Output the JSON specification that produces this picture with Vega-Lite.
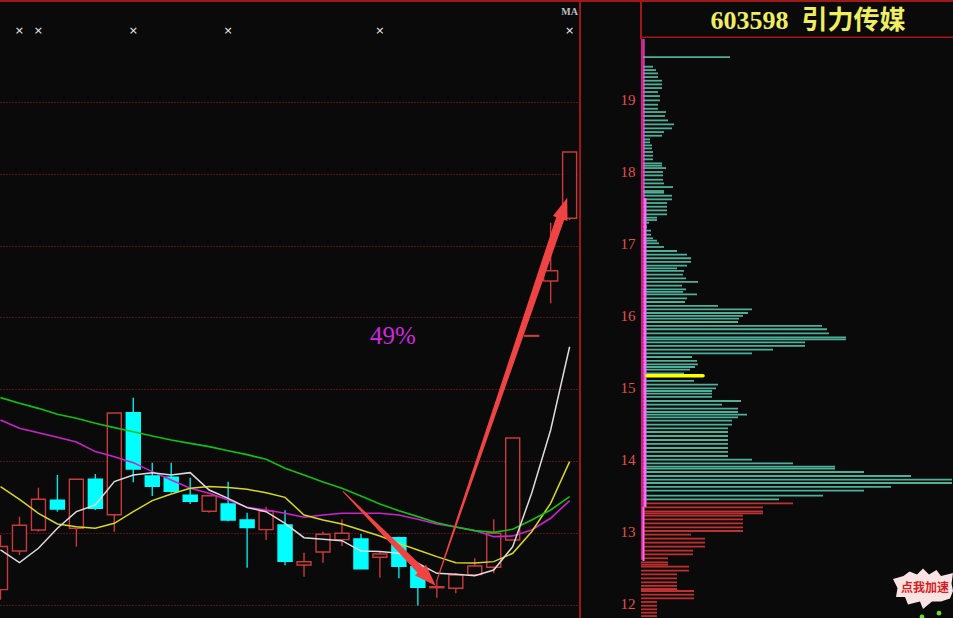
{"$schema":"https://vega.github.io/schema/vega-lite/v6.json","background":"#0a0a0a","padding":0,"spacing":0,"config":{"view":{"stroke":null},"axis":{"title":null}},
"datasets":{
"days":[
{"i":0,"open":12.22,"close":12.82,"high":12.98,"low":12.08,"ma5":12.771,"ma10":13.651,"ma20":14.576,"ma60":14.887},
{"i":1,"open":12.757,"close":13.114,"high":13.233,"low":12.701,"ma5":12.595,"ma10":13.475,"ma20":14.461,"ma60":14.808},
{"i":2,"open":13.049,"close":13.475,"high":13.636,"low":13.025,"ma5":12.794,"ma10":13.28,"ma20":14.4,"ma60":14.738},
{"i":3,"open":13.461,"close":13.34,"high":13.813,"low":13.303,"ma5":13.072,"ma10":13.132,"ma20":14.336,"ma60":14.655},
{"i":4,"open":13.072,"close":13.753,"high":13.753,"low":12.817,"ma5":13.303,"ma10":13.095,"ma20":14.271,"ma60":14.6},
{"i":5,"open":13.753,"close":13.35,"high":13.826,"low":13.326,"ma5":13.396,"ma10":13.072,"ma20":14.137,"ma60":14.53},
{"i":6,"open":13.261,"close":14.674,"high":14.674,"low":13.025,"ma5":13.72,"ma10":13.141,"ma20":14.067,"ma60":14.47},
{"i":7,"open":14.678,"close":13.896,"high":14.886,"low":13.711,"ma5":13.813,"ma10":13.303,"ma20":13.984,"ma60":14.414},
{"i":8,"open":13.799,"close":13.656,"high":13.983,"low":13.521,"ma5":13.845,"ma10":13.456,"ma20":13.859,"ma60":14.354},
{"i":9,"open":13.781,"close":13.586,"high":13.983,"low":13.567,"ma5":13.813,"ma10":13.549,"ma20":13.743,"ma60":14.299},
{"i":10,"open":13.531,"close":13.447,"high":13.775,"low":13.41,"ma5":13.845,"ma10":13.627,"ma20":13.627,"ma60":14.252},
{"i":11,"open":13.308,"close":13.525,"high":13.525,"low":13.289,"ma5":13.604,"ma10":13.651,"ma20":13.558,"ma60":14.206},
{"i":12,"open":13.41,"close":13.188,"high":13.719,"low":13.169,"ma5":13.488,"ma10":13.637,"ma20":13.465,"ma60":14.15},
{"i":13,"open":13.188,"close":13.081,"high":13.289,"low":12.525,"ma5":13.359,"ma10":13.613,"ma20":13.363,"ma60":14.095},
{"i":14,"open":13.053,"close":13.313,"high":13.372,"low":12.91,"ma5":13.303,"ma10":13.567,"ma20":13.326,"ma60":14.03},
{"i":15,"open":13.118,"close":12.614,"high":13.322,"low":12.558,"ma5":13.141,"ma10":13.502,"ma20":13.28,"ma60":13.905},
{"i":16,"open":12.563,"close":12.608,"high":12.733,"low":12.4,"ma5":12.942,"ma10":13.257,"ma20":13.225,"ma60":13.813},
{"i":17,"open":12.743,"close":12.989,"high":13.025,"low":12.594,"ma5":12.919,"ma10":13.188,"ma20":13.257,"ma60":13.715},
{"i":18,"open":12.914,"close":13.003,"high":13.197,"low":12.826,"ma5":12.9,"ma10":13.132,"ma20":13.28,"ma60":13.627},
{"i":19,"open":12.924,"close":12.511,"high":12.993,"low":12.511,"ma5":12.757,"ma10":13.049,"ma20":13.28,"ma60":13.521},
{"i":20,"open":12.669,"close":12.715,"high":12.747,"low":12.386,"ma5":12.748,"ma10":12.965,"ma20":13.28,"ma60":13.41},
{"i":21,"open":12.942,"close":12.544,"high":12.956,"low":12.378,"ma5":12.725,"ma10":12.863,"ma20":13.257,"ma60":13.317},
{"i":22,"open":12.539,"close":12.253,"high":12.59,"low":12.0,"ma5":12.586,"ma10":12.771,"ma20":13.197,"ma60":13.234},
{"i":23,"open":12.247,"close":12.261,"high":12.354,"low":12.108,"ma5":12.447,"ma10":12.678,"ma20":13.132,"ma60":13.15},
{"i":24,"open":12.239,"close":12.424,"high":12.45,"low":12.169,"ma5":12.433,"ma10":12.595,"ma20":13.09,"ma60":13.09},
{"i":25,"open":12.428,"close":12.549,"high":12.656,"low":12.428,"ma5":12.414,"ma10":12.59,"ma20":13.04,"ma60":13.04},
{"i":26,"open":12.531,"close":13.003,"high":13.197,"low":12.447,"ma5":12.493,"ma10":12.609,"ma20":12.956,"ma60":13.016},
{"i":27,"open":12.91,"close":14.326,"high":14.326,"low":12.91,"ma5":12.817,"ma10":12.725,"ma20":12.965,"ma60":13.058},
{"i":28,"open":15.74,"close":15.75,"high":15.75,"low":15.74,"ma5":13.558,"ma10":13.025,"ma20":13.049,"ma60":13.188},
{"i":29,"open":16.507,"close":16.65,"high":17.317,"low":16.197,"ma5":14.438,"ma10":13.419,"ma20":13.211,"ma60":13.326},
{"i":30,"open":17.378,"close":18.299,"high":18.299,"low":17.354,"ma5":15.594,"ma10":13.998,"ma20":13.456,"ma60":13.512}
],
"arrows":[
{"arrow":"a","ord":1,"i":18.07,"p":13.581,"w":1},
{"arrow":"a","ord":2,"i":22.13,"p":12.492,"w":8},
{"arrow":"b","ord":1,"i":23.01,"p":12.354,"w":1},
{"arrow":"b","ord":2,"i":29.505,"p":17.375,"w":8.5}
],
"marks":[
{"i":1,"p":19.979,"t":"×"},{"i":2,"p":19.979,"t":"×"},{"i":7,"p":19.979,"t":"×"},{"i":12,"p":19.979,"t":"×"},{"i":20,"p":19.979,"t":"×"},{"i":30,"p":19.979,"t":"×"}
],
"chips":[
{"side":"sell","p":19.594,"vol":89},{"side":"sell","p":19.46,"vol":12},{"side":"sell","p":19.413,"vol":15},{"side":"sell","p":19.367,"vol":17},{"side":"sell","p":19.316,"vol":17},{"side":"sell","p":19.265,"vol":21},{"side":"sell","p":19.214,"vol":21},{"side":"sell","p":19.163,"vol":21},{"side":"sell","p":19.108,"vol":17},{"side":"sell","p":19.052,"vol":19},{"side":"sell","p":18.992,"vol":19},{"side":"sell","p":18.932,"vol":17},{"side":"sell","p":18.876,"vol":17},{"side":"sell","p":18.83,"vol":25},{"side":"sell","p":18.775,"vol":24},{"side":"sell","p":18.714,"vol":27},{"side":"sell","p":18.659,"vol":33},{"side":"sell","p":18.603,"vol":31},{"side":"sell","p":18.552,"vol":23},{"side":"sell","p":18.501,"vol":21},{"side":"sell","p":18.45,"vol":9},{"side":"sell","p":18.409,"vol":9},{"side":"sell","p":18.367,"vol":11},{"side":"sell","p":18.325,"vol":11},{"side":"sell","p":18.275,"vol":12},{"side":"sell","p":18.224,"vol":12},{"side":"sell","p":18.173,"vol":12},{"side":"sell","p":18.117,"vol":21},{"side":"sell","p":18.085,"vol":21},{"side":"sell","p":18.052,"vol":25},{"side":"sell","p":17.997,"vol":22},{"side":"sell","p":17.95,"vol":22},{"side":"sell","p":17.89,"vol":22},{"side":"sell","p":17.839,"vol":23},{"side":"sell","p":17.788,"vol":32},{"side":"sell","p":17.733,"vol":23},{"side":"sell","p":17.71,"vol":23},{"side":"sell","p":17.668,"vol":31},{"side":"sell","p":17.617,"vol":31},{"side":"sell","p":17.566,"vol":26},{"side":"sell","p":17.515,"vol":26},{"side":"sell","p":17.464,"vol":26},{"side":"sell","p":17.409,"vol":26},{"side":"sell","p":17.363,"vol":16},{"side":"sell","p":17.33,"vol":16},{"side":"sell","p":17.293,"vol":8},{"side":"sell","p":17.237,"vol":6},
{"side":"sell","p":17.183,"vol":10},{"side":"sell","p":17.127,"vol":10},{"side":"sell","p":17.076,"vol":12},{"side":"sell","p":17.044,"vol":16},{"side":"sell","p":17.007,"vol":18},{"side":"sell","p":16.956,"vol":23},{"side":"sell","p":16.9,"vol":36},{"side":"sell","p":16.85,"vol":46},{"side":"sell","p":16.799,"vol":50},{"side":"sell","p":16.748,"vol":50},{"side":"sell","p":16.697,"vol":46},{"side":"sell","p":16.66,"vol":36},{"side":"sell","p":16.623,"vol":43},{"side":"sell","p":16.572,"vol":42},{"side":"sell","p":16.521,"vol":45},{"side":"sell","p":16.47,"vol":57},{"side":"sell","p":16.419,"vol":41},{"side":"sell","p":16.368,"vol":45},{"side":"sell","p":16.331,"vol":42},{"side":"sell","p":16.299,"vol":56},{"side":"sell","p":16.243,"vol":46},{"side":"sell","p":16.192,"vol":44},{"side":"sell","p":16.137,"vol":77},{"side":"sell","p":16.09,"vol":111},{"side":"sell","p":16.039,"vol":107},{"side":"sell","p":15.998,"vol":102},{"side":"sell","p":15.961,"vol":98},{"side":"sell","p":15.914,"vol":97},{"side":"sell","p":15.859,"vol":181},{"side":"sell","p":15.813,"vol":186},{"side":"sell","p":15.757,"vol":188},{"side":"sell","p":15.701,"vol":205},{"side":"sell","p":15.674,"vol":205},{"side":"sell","p":15.632,"vol":164},{"side":"sell","p":15.581,"vol":164},{"side":"sell","p":15.53,"vol":132},{"side":"sell","p":15.479,"vol":111},{"side":"sell","p":15.428,"vol":51},{"side":"sell","p":15.373,"vol":56},{"side":"sell","p":15.326,"vol":57},{"side":"sell","p":15.289,"vol":54},{"side":"sell","p":15.252,"vol":49},{"side":"sell","p":15.201,"vol":43},{"side":"sell","p":15.095,"vol":53},{"side":"sell","p":15.044,"vol":77},{"side":"sell","p":14.993,"vol":75},{"side":"sell","p":14.956,"vol":71},{"side":"sell","p":14.919,"vol":71},{"side":"sell","p":14.873,"vol":71},{"side":"sell","p":14.817,"vol":100},{"side":"sell","p":14.766,"vol":81},{"side":"sell","p":14.711,"vol":97},{"side":"sell","p":14.664,"vol":97},{"side":"sell","p":14.627,"vol":106},{"side":"sell","p":14.59,"vol":97},
{"side":"sell","p":14.544,"vol":91},{"side":"sell","p":14.488,"vol":91},{"side":"sell","p":14.437,"vol":87},{"side":"sell","p":14.386,"vol":87},{"side":"sell","p":14.331,"vol":87},{"side":"sell","p":14.275,"vol":87},{"side":"sell","p":14.22,"vol":87},{"side":"sell","p":14.164,"vol":87},{"side":"sell","p":14.109,"vol":87},{"side":"sell","p":14.053,"vol":87},{"side":"sell","p":14.002,"vol":111},{"side":"sell","p":13.951,"vol":152},{"side":"sell","p":13.905,"vol":194},{"side":"sell","p":13.877,"vol":194},{"side":"sell","p":13.831,"vol":223},{"side":"sell","p":13.775,"vol":270},{"side":"sell","p":13.724,"vol":311},{"side":"sell","p":13.678,"vol":311},{"side":"sell","p":13.623,"vol":250},{"side":"sell","p":13.572,"vol":223},{"side":"sell","p":13.502,"vol":182},{"side":"sell","p":13.451,"vol":138},
{"side":"buy","p":13.396,"vol":152},{"side":"buy","p":13.34,"vol":122},{"side":"buy","p":13.285,"vol":122},{"side":"buy","p":13.257,"vol":122},{"side":"buy","p":13.224,"vol":102},{"side":"buy","p":13.174,"vol":102},{"side":"buy","p":13.118,"vol":102},{"side":"buy","p":13.062,"vol":102},{"side":"buy","p":13.011,"vol":102},{"side":"buy","p":12.96,"vol":50},{"side":"buy","p":12.905,"vol":64},{"side":"buy","p":12.85,"vol":64},{"side":"buy","p":12.794,"vol":64},{"side":"buy","p":12.738,"vol":52},{"side":"buy","p":12.687,"vol":52},{"side":"buy","p":12.632,"vol":27},{"side":"buy","p":12.576,"vol":27},{"side":"buy","p":12.544,"vol":27},{"side":"buy","p":12.516,"vol":48},{"side":"buy","p":12.461,"vol":48},{"side":"buy","p":12.41,"vol":36},{"side":"buy","p":12.354,"vol":36},{"side":"buy","p":12.299,"vol":36},{"side":"buy","p":12.248,"vol":36},{"side":"buy","p":12.206,"vol":36},{"side":"buy","p":12.178,"vol":53},{"side":"buy","p":12.127,"vol":53},{"side":"buy","p":12.076,"vol":53},{"side":"buy","p":12.025,"vol":16},{"side":"buy","p":11.974,"vol":16},{"side":"buy","p":11.923,"vol":16},{"side":"buy","p":11.877,"vol":16},{"side":"buy","p":11.83,"vol":16}
],
"bands":[
{"k":"crimson","v0":0,"v1":2.5,"p0":19.844,"p1":12.608},
{"k":"pale","v0":2.5,"v1":3.5,"p0":19.844,"p1":17.636},
{"k":"pale","v0":2.5,"v1":5.5,"p0":17.636,"p1":13.344},
{"k":"pale","v0":1.5,"v1":3.5,"p0":13.344,"p1":12.594}
]
},
"hconcat":[
{"width":581,"height":618,
"encoding":{"x":{"field":"i","type":"quantitative","scale":{"domain":[-0.026,30.6],"nice":false,"zero":false,"padding":0},"axis":null}},
"layer":[
{"data":{"name":"days"},"mark":{"type":"rule","strokeWidth":1.4,"clip":true},"encoding":{"y":{"field":"low","type":"quantitative","scale":{"domain":[11.826,20.41],"nice":false,"zero":false},"axis":{"values":[12,13,14,15,16,17,18,19],"labels":false,"ticks":false,"domain":false,"grid":true,"gridColor":"#a02020","gridDash":[1,2],"gridWidth":1,"minExtent":0,"maxExtent":0}},"y2":{"field":"high"},"color":{"condition":{"test":"datum.close>=datum.open","value":"#c83a3e"},"value":"#00e8e8"}}},
{"data":{"name":"days"},"mark":{"type":"bar","size":14,"strokeWidth":1.4,"clip":true},"encoding":{"y":{"field":"open","type":"quantitative"},"y2":{"field":"close"},"fill":{"condition":{"test":"datum.close>=datum.open","value":"#0a0a0a"},"value":"#00ffff"},"stroke":{"condition":{"test":"datum.close>=datum.open","value":"#c83a3e"},"value":"#00ffff"}}},
{"data":{"name":"days"},"mark":{"type":"line","color":"#cc22cc","strokeWidth":1.6,"clip":true},"encoding":{"y":{"field":"ma20","type":"quantitative"}}},
{"data":{"name":"days"},"mark":{"type":"line","color":"#d8d820","strokeWidth":1.5,"clip":true},"encoding":{"y":{"field":"ma10","type":"quantitative"}}},
{"data":{"name":"days"},"mark":{"type":"line","color":"#12c012","strokeWidth":1.6,"clip":true},"encoding":{"y":{"field":"ma60","type":"quantitative"}}},
{"data":{"name":"days"},"mark":{"type":"line","color":"#dcdcdc","strokeWidth":1.5,"clip":true},"encoding":{"y":{"field":"ma5","type":"quantitative"}}},
{"data":{"name":"arrows"},"mark":{"type":"trail","color":"#f04444"},"encoding":{"y":{"field":"p","type":"quantitative"},"order":{"field":"ord"},"detail":{"field":"arrow"},"size":{"field":"w","type":"quantitative","scale":{"domain":[0,20],"range":[0,20]},"legend":null}}},
{"data":{"values":[{"i":22.54,"p":12.383}]},"mark":{"type":"point","filled":true,"opacity":1,"color":"#f04444","size":484,"angle":135.5,"shape":"M0,-1L-0.7,1L0.7,1Z"},"encoding":{"y":{"field":"p","type":"quantitative"}}},
{"data":{"values":[{"i":29.69,"p":17.519}]},"mark":{"type":"point","filled":true,"opacity":1,"color":"#f04444","size":484,"angle":18.8,"shape":"M0,-1L-0.7,1L0.7,1Z"},"encoding":{"y":{"field":"p","type":"quantitative"}}},
{"data":{"name":"marks"},"mark":{"type":"text","color":"#f0f0f0","fontSize":11,"font":"DejaVu Sans"},"encoding":{"y":{"field":"p","type":"quantitative"},"text":{"field":"t"}}},
{"data":{"values":[{"i":20.69,"p":15.743,"t":"49%"}]},"mark":{"type":"text","color":"#d028e0","fontSize":25,"font":"Liberation Serif"},"encoding":{"y":{"field":"p","type":"quantitative"},"text":{"field":"t"}}},
{"data":{"values":[{"i":30,"p":20.243,"t":"MA"}]},"mark":{"type":"text","color":"#c0c0c0","fontSize":10,"fontWeight":"bold","font":"Liberation Serif"},"encoding":{"y":{"field":"p","type":"quantitative"},"text":{"field":"t"}}},
{"data":{"values":[{"i":30.55}]},"mark":{"type":"rule","color":"#a01818","strokeWidth":2,"clip":true},"encoding":{"x":{"field":"i","type":"quantitative"}}},
{"data":{"values":[{"i":-0.026,"i2":30.6,"p":20.396}]},"mark":{"type":"rule","color":"#a01818","strokeWidth":2,"clip":true},"encoding":{"x2":{"field":"i2"},"y":{"field":"p","type":"quantitative"}}}
]},
{"width":372,"height":618,
"layer":[
{"data":{"values":[{"p":20.372,"a":-60,"b":312}]},"mark":{"type":"rule","color":"#a01818","strokeWidth":2,"clip":true},"encoding":{"x":{"field":"a","type":"quantitative","scale":{"domain":[-60,312],"nice":false,"zero":false},"axis":null},"x2":{"field":"b"},"y":{"field":"p","type":"quantitative","scale":{"domain":[11.803,20.386],"nice":false,"zero":false},"axis":{"values":[12,13,14,15,16,17,18,19],"format":"d","orient":"left","offset":-56,"domain":false,"ticks":false,"grid":false,"labelColor":"#e05050","labelFontSize":15,"labelFont":"Liberation Serif","labelPadding":2,"minExtent":0,"maxExtent":0}}}},
{"data":{"values":[{"p":19.87,"a":0,"b":312}]},"mark":{"type":"rule","color":"#a01818","strokeWidth":1.5,"clip":true},"encoding":{"x":{"field":"a","type":"quantitative"},"x2":{"field":"b"},"y":{"field":"p","type":"quantitative"}}},
{"data":{"values":[{"a":0,"p0":20.372,"p1":19.84}]},"mark":{"type":"rule","color":"#a01818","strokeWidth":2,"clip":true},"encoding":{"x":{"field":"a","type":"quantitative"},"y":{"field":"p0","type":"quantitative"},"y2":{"field":"p1"}}},
{"data":{"name":"chips"},"mark":{"type":"rule","strokeWidth":1.8,"clip":true},"encoding":{"x":{"field":"vol","type":"quantitative"},"x2":{"datum":0},"y":{"field":"p","type":"quantitative"},"color":{"field":"side","type":"nominal","scale":{"domain":["sell","buy"],"range":["#4fb09a","#c03030"]},"legend":null}}},
{"data":{"name":"bands"},"mark":{"type":"rect"},"encoding":{"x":{"field":"v0","type":"quantitative"},"x2":{"field":"v1"},"y":{"field":"p0","type":"quantitative"},"y2":{"field":"p1"},"fill":{"field":"k","type":"nominal","scale":{"domain":["crimson","pale"],"range":["#e0148c","#f070f0"]},"legend":null}}},
{"data":{"values":[{"vol":62,"p":15.168}]},"mark":{"type":"rule","color":"#ffff00","strokeWidth":3.5,"strokeCap":"round"},"encoding":{"x":{"field":"vol","type":"quantitative"},"x2":{"datum":6},"y":{"field":"p","type":"quantitative"}}},
{"data":{"values":[{"vol":167,"p":20.094,"t":"603598\u00a0\u00a0引力传媒"}]},"mark":{"type":"text","color":"#eeee60","fontSize":26,"fontWeight":"bold","font":"Liberation Serif, Noto Sans CJK SC"},"encoding":{"x":{"field":"vol","type":"quantitative"},"y":{"field":"p","type":"quantitative"},"text":{"field":"t"}}},
{"data":{"values":[{"vol":282,"p":12.219}]},"mark":{"type":"point","filled":true,"opacity":1,"color":"#fbe3e3","size":3600,"clip":true,"shape":"M-1,-0.3L-0.65,-0.4L-0.45,-0.55L-0.2,-0.45L0,-0.65L0.2,-0.45L0.45,-0.6L0.6,-0.4L1,-0.5L0.95,-0.15L1,0.1L0.9,0.35L0.6,0.45L0.3,0.45L0,0.7L-0.1,0.45L-0.5,0.55L-0.6,0.3L-0.9,0.3L-0.85,0Z"},"encoding":{"x":{"field":"vol","type":"quantitative"},"y":{"field":"p","type":"quantitative"}}},
{"data":{"values":[{"vol":284,"p":12.219,"t":"点我加速"}]},"mark":{"type":"text","color":"#d81e1e","fontSize":12,"fontWeight":"bold","font":"Noto Sans CJK SC"},"encoding":{"x":{"field":"vol","type":"quantitative"},"y":{"field":"p","type":"quantitative"},"text":{"field":"t"}}},
{"data":{"values":[{"vol":298,"p":11.87},{"vol":281,"p":11.82}]},"mark":{"type":"point","filled":true,"opacity":1,"color":"#60e020","size":22,"clip":true},"encoding":{"x":{"field":"vol","type":"quantitative"},"y":{"field":"p","type":"quantitative"}}}
]}
]}
